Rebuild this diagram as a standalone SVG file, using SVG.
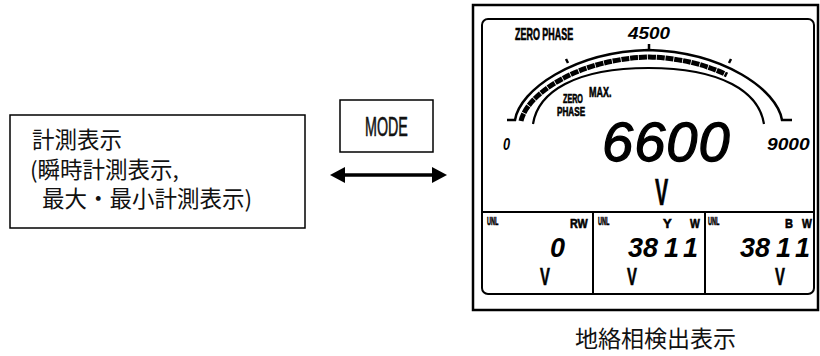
<svg xmlns="http://www.w3.org/2000/svg" width="820" height="356" viewBox="0 0 820 356">
<style>
.jp{font-family:"Noto Sans CJK JP","Noto Sans",sans-serif;fill:#111}
.lcd{font-family:"Liberation Sans",Arial,sans-serif;font-weight:bold;fill:#000;stroke:#000;stroke-width:0.6}
.seg{font-family:"Liberation Sans",Arial,sans-serif;font-style:italic;font-weight:bold;fill:#000}
.segn{font-family:"Liberation Sans",Arial,sans-serif;font-style:italic;font-weight:normal;fill:#000;stroke:#000;stroke-width:1.3}
.box{fill:#fff;stroke:#000;stroke-width:1.5}
.ln{fill:none;stroke:#000}
</style>
<defs>
<marker id="ah" markerUnits="userSpaceOnUse" markerWidth="15" markerHeight="16" refX="0" refY="8" orient="auto-start-reverse">
<path d="M0,0 L15,8 L0,16 Z" fill="#000"/>
</marker>
</defs>
<rect width="820" height="356" fill="#fff"/>

<g id="measure-box">
<rect class="box" x="10" y="115" width="295" height="113"/>
<text class="jp" x="32" y="148" font-size="22.5">計測表示</text>
<text class="jp" x="30" y="178" font-size="22.5">(瞬時計測表示,</text>
<text class="jp" x="42" y="207" font-size="22.5">最大・最小計測表示)</text>
</g>

<g id="mode-box">
<rect class="box" x="340" y="100" width="93" height="52"/>
<text transform="translate(365,136) scale(0.53,1)" font-family="'Liberation Sans',Arial,sans-serif" font-size="27" fill="#111" stroke="#111" stroke-width="0.6">MODE</text>
</g>

<g id="connectors">
<path class="ln" d="M345,175 H432" stroke-width="3.5" marker-start="url(#ah)" marker-end="url(#ah)"/>
</g>

<g id="display">
<rect class="ln" x="473" y="5" width="345" height="305" stroke-width="2.5"/>
<rect class="ln" x="482" y="19" width="332" height="275" rx="6" stroke-width="2"/>
<path class="ln" d="M482,212 H814 M593,212 V294 M705,212 V294" stroke-width="2"/>

<path class="ln" d="M507,120 H515 C520,90 573,52 648.5,50 C724,52 777,90 782,120 H792" stroke-width="2.5"/>
<path class="ln" d="M521,121 C527,94 578,59 649,57 C680,57.9 707,65 727,75" stroke-width="5" stroke="#111" stroke-dasharray="8 0.8"/>
<path class="ln" d="M533,124 C538,92 575,68 648.5,68 C722,68 759,92 764,124" stroke-width="2.2"/>
<path class="ln" d="M649,50 V44 M568,63 L566,59 M729,63 L731,59" stroke-width="2.5"/>

<text class="lcd" transform="translate(515,39.5) scale(0.56,1)" font-size="16">ZERO PHASE</text>
<text class="seg" transform="translate(628,39) scale(1.18,1)" font-size="16">4500</text>
<text class="lcd" transform="translate(563,102.5) scale(0.6,1)" font-size="12">ZERO</text>
<text class="lcd" transform="translate(557,116) scale(0.68,1)" font-size="12">PHASE</text>
<text class="lcd" transform="translate(589,97) scale(0.6,1)" font-size="15">MAX.</text>
<text class="seg" transform="translate(503,150) scale(0.8,1)" font-size="16">0</text>
<text class="segn" x="602" y="160.5" font-size="56" letter-spacing="1">6600</text>
<text class="seg" transform="translate(767,150) scale(1.2,1)" font-size="16">9000</text>
<text class="lcd" transform="translate(655,205) scale(0.55,1)" font-size="36">V</text>

<text class="lcd" transform="translate(487,225) scale(0.5,1)" font-size="11">UNL</text>
<text class="lcd" transform="translate(570,228) scale(0.83,1)" font-size="13">RW</text>
<text class="seg" x="550" y="257" font-size="27">0</text>
<text class="lcd" transform="translate(540,285) scale(0.62,1)" font-size="24">V</text>

<text class="lcd" transform="translate(598,225) scale(0.5,1)" font-size="11">UNL</text>
<text class="lcd" transform="translate(663,228) scale(1.0,1)" font-size="13">Y</text>
<text class="lcd" transform="translate(690,228) scale(0.8,1)" font-size="13">W</text>
<text class="seg" x="628" y="257" font-size="27">38<tspan dx="6">1</tspan><tspan dx="6">1</tspan></text>
<text class="lcd" transform="translate(627,285) scale(0.62,1)" font-size="24">V</text>

<text class="lcd" transform="translate(708,225) scale(0.5,1)" font-size="11">UNL</text>
<text class="lcd" transform="translate(785,228) scale(0.85,1)" font-size="13">B</text>
<text class="lcd" transform="translate(802,228) scale(0.8,1)" font-size="13">W</text>
<text class="seg" x="740" y="257" font-size="27">38<tspan dx="6">1</tspan><tspan dx="6">1</tspan></text>
<text class="lcd" transform="translate(775,285) scale(0.62,1)" font-size="24">V</text>
</g>

<g id="caption">
<text class="jp" x="575" y="347" font-size="23">地絡相検出表示</text>
</g>
</svg>
